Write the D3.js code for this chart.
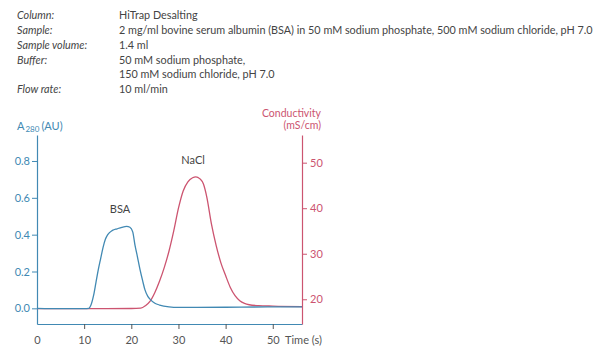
<!DOCTYPE html>
<html>
<head>
  <meta charset="utf-8" />
  <title>HiTrap Desalting</title>
  <script src="https://d3js.org/d3.v7.min.js"></script>
  <style>
    body { margin: 0; background: #fff; }
    text { font-family: Lato, "DejaVu Sans", sans-serif; }
  </style>
</head>
<body>
  <script>
    // header block
    const infoLabels = ["Column:", "Sample:", "Sample volume:", "Buffer:", "", "Flow rate:"];
    const infoValues = [
      "HiTrap Desalting",
      "2 mg/ml bovine serum albumin (BSA) in 50 mM sodium phosphate, 500 mM sodium chloride, pH 7.0",
      "1.4 ml",
      "50 mM sodium phosphate,",
      "150 mM sodium chloride, pH 7.0",
      "10 ml/min"
    ];

    // ticks
    const timeTicks = [0, 10, 20, 30, 40, 50];
    const absTicks = [0.0, 0.2, 0.4, 0.6, 0.8];
    const condTicks = [20, 30, 40, 50];

    // A280 trace (time s, AU)
    const bsaTime = [0, 5, 10, 11, 11.4, 12, 12.5, 13, 13.5, 14, 14.5, 15, 16, 17, 18, 19, 19.7, 20.3, 20.8, 21.3, 21.85, 22.4, 22.9, 23.5, 24, 25, 26, 28, 30, 40, 50, 56.2];
    const bsaAbs = [0.0, -0.002, -0.002, 0.0, 0.015, 0.07, 0.14, 0.21, 0.27, 0.33, 0.375, 0.4, 0.423, 0.432, 0.44, 0.445, 0.44, 0.415, 0.34, 0.28, 0.21, 0.15, 0.1, 0.065, 0.049, 0.028, 0.018, 0.008, 0.005, 0.006, 0.008, 0.008];

    // conductivity trace (time s, mS/cm)
    const naclTime = [0, 10, 20, 22, 23, 24, 25, 26, 27, 28, 29, 30, 31, 32, 33, 33.7, 34.5, 35.3, 36, 37, 38, 39, 40, 41, 42, 43, 44, 45, 47, 50, 56.2];
    const naclCond = [17.95, 17.95, 17.97, 18.05, 18.6, 19.6, 21.5, 24.0, 27.0, 30.6, 35.0, 40.0, 43.8, 45.8, 46.7, 46.9, 46.5, 45.3, 42.5, 36.5, 31.8, 28.0, 25.2, 22.6, 20.8, 19.7, 19.1, 18.8, 18.6, 18.5, 18.4];

    const blue = "#4189b3";
    const pink = "#cc5470";
    const grey = "#555";

    const svg = d3.select("body").append("svg")
      .attr("width", 605)
      .attr("height", 355);

    // header text
    const rowY = [19, 34, 48.5, 63.5, 78, 93];
    infoLabels.forEach((t, i) => {
      svg.append("text").attr("x", 17).attr("y", rowY[i])
        .attr("font-size", 10.8).attr("font-style", "italic")
        .attr("fill", "#444").text(t);
    });
    infoValues.forEach((t, i) => {
      svg.append("text").attr("x", 119).attr("y", rowY[i])
        .attr("font-size", 10.8).attr("fill", "#444").text(t);
    });

    let x = d3.scaleLinear().domain([0, 56.2]).range([37, 302]);
    let yA = d3.scaleLinear().domain([-0.085, 0.941]).range([324, 135]);
    let yC = d3.scaleLinear().domain([14.57, 56.08]).range([324, 135]);

    // axes
    let gx = svg.append("g")
      .attr("transform", `translate(0, ${yA.range()[0]})`)
      .call(d3.axisBottom(x).tickValues(timeTicks).tickSize(5).tickSizeOuter(0).tickPadding(7));
    gx.select(".domain").attr("stroke", blue).attr("stroke-width", 1.2);
    gx.selectAll(".tick line").attr("stroke", grey);
    gx.selectAll(".tick").filter(d => d === 0).select("line").remove();
    gx.selectAll(".tick text").attr("fill", grey).attr("font-size", 11);

    let gl = svg.append("g")
      .attr("transform", `translate(${x.range()[0]}, 0)`)
      .call(d3.axisLeft(yA).tickValues(absTicks).tickFormat(d3.format(".1f")).tickSize(5).tickSizeOuter(0).tickPadding(2));
    gl.select(".domain").attr("stroke", blue).attr("stroke-width", 1.2);
    gl.selectAll(".tick line").attr("stroke", blue);
    gl.selectAll(".tick text").attr("fill", blue).attr("font-size", 11);

    let gr = svg.append("g")
      .attr("transform", `translate(${x.range()[1]}, 0)`)
      .call(d3.axisRight(yC).tickValues(condTicks).tickSize(5).tickSizeOuter(0).tickPadding(3));
    gr.select(".domain").attr("stroke", pink).attr("stroke-width", 1.2);
    gr.selectAll(".tick line").attr("stroke", pink);
    gr.selectAll(".tick text").attr("fill", pink).attr("font-size", 11);

    // axis titles
    let aTitle = svg.append("text").attr("x", 17).attr("y", 130)
      .attr("fill", blue).attr("font-size", 11);
    aTitle.append("tspan").text("A");
    aTitle.append("tspan").attr("font-size", 8).attr("dy", 2).attr("dx", 1).text("280");
    aTitle.append("tspan").attr("dy", -2).attr("dx", 2).text("(AU)");

    svg.append("text").attr("x", 321).attr("y", 117).attr("text-anchor", "end")
      .attr("fill", pink).attr("font-size", 10.5).text("Conductivity");
    svg.append("text").attr("x", 321).attr("y", 129).attr("text-anchor", "end")
      .attr("fill", pink).attr("font-size", 10.5).text("(mS/cm)");
    svg.append("text").attr("x", 285).attr("y", 344)
      .attr("fill", grey).attr("font-size", 11).text("Time (s)");

    // traces
    let naclData = naclTime.map((t, i) => ({ t: t, v: naclCond[i] }));
    let bsaData = bsaTime.map((t, i) => ({ t: t, v: bsaAbs[i] }));

    let lineC = d3.line().x(d => x(d.t)).y(d => yC(d.v)).curve(d3.curveMonotoneX);
    let lineA = d3.line().x(d => x(d.t)).y(d => yA(d.v)).curve(d3.curveMonotoneX);

    svg.append("path").datum(naclData).attr("d", lineC)
      .attr("fill", "none").attr("stroke", pink).attr("stroke-width", 1.3);
    svg.append("path").datum(bsaData).attr("d", lineA)
      .attr("fill", "none").attr("stroke", blue).attr("stroke-width", 1.3);

    // peak labels
    svg.append("text").attr("x", x(17.6)).attr("y", yA(0.52)).attr("text-anchor", "middle")
      .attr("fill", "#444").attr("font-size", 11).text("BSA");
    svg.append("text").attr("x", x(33.1)).attr("y", yC(49.8)).attr("text-anchor", "middle")
      .attr("fill", "#444").attr("font-size", 11).text("NaCl");
  </script>
</body>
</html>
